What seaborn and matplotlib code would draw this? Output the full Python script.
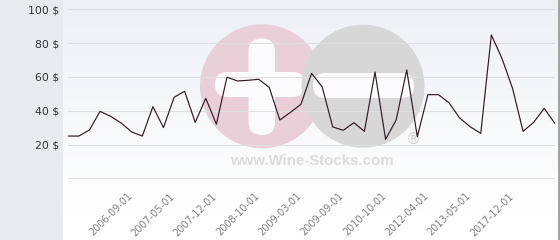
import numpy as np
import pandas as pd
import matplotlib
matplotlib.use("Agg")
import matplotlib.pyplot as plt
from matplotlib.patches import Rectangle, Circle, FancyBboxPatch
from matplotlib.colors import LinearSegmentedColormap
from matplotlib.transforms import ScaledTranslation
import seaborn as sns

# ---- data ----
prices = [25, 25, 28.6, 39.6, 36.7, 32.7, 27.4, 25, 42.4, 30, 47.9, 51.5, 33.1,
          47.3, 32, 59.8, 57.6, 58, 58.6, 53.8, 34.5, 39, 43.8, 62.1, 54.2, 30.4,
          28.4, 32.9, 27.8, 62.9, 23.1, 34.5, 64.1, 24.6, 49.5, 49.5, 44.7, 35.7,
          30.5, 26.6, 84.8, 71, 53.3, 27.8, 33.1, 41.4, 32.5]
tick_labels = ["2006-09-01", "2007-05-01", "2007-12-01", "2008-10-01", "2009-03-01",
               "2009-09-01", "2010-10-01", "2012-04-01", "2013-05-01", "2017-12-01"]
tick_index = [6, 10, 14, 18, 22, 26, 30, 34, 38, 42]
y_ticks = [0, 20, 40, 60, 80, 100]
y_tick_labels = ["", "20 $", "40 $", "60 $", "80 $", "100 $"]

df = pd.DataFrame({"idx": np.arange(len(prices)), "price": prices})

sns.set_theme(style="white")
plt.rcParams["font.family"] = ["DejaVu Sans"]

W, H = 560, 240
fig = plt.figure(figsize=(W / 100, H / 100), dpi=100, facecolor="white")

# ---- background layer (pixel coordinates) ----
bg = fig.add_axes([0, 0, 1, 1], zorder=0)
bg.set_xlim(0, W)
bg.set_ylim(H, 0)
bg.axis("off")
grad = LinearSegmentedColormap.from_list("g", ["#eef0f4", "#ffffff"])
bg.imshow(np.linspace(0, 1, 256).reshape(-1, 1), cmap=grad, aspect="auto",
          extent=[63, W, 215, 0], zorder=0)
bg.add_patch(Rectangle((63, 215), W - 63, 25, color="#ffffff", zorder=0.5, lw=0))
bg.add_patch(Rectangle((0, 0), 63, H, color="#e7ebee", zorder=1, lw=0))
bg.add_patch(Rectangle((558, 0), 2, H, color="#a3a3a3", zorder=1, lw=0))

# watermark logo
bg.add_patch(Circle((262, 86.3), 62, color="#e9d0d8", zorder=2, lw=0))
bg.add_patch(FancyBboxPatch((248.5, 38.5), 26.5, 96.5,
                            boxstyle="round,pad=0,rounding_size=13",
                            color="#fbfbfd", zorder=3, lw=0))
bg.add_patch(FancyBboxPatch((215, 72), 90, 25,
                            boxstyle="round,pad=0,rounding_size=12.5",
                            color="#fbfbfd", zorder=3, lw=0))
bg.add_patch(Circle((363, 86.2), 61.5, color="#d7d7d7", zorder=4, lw=0))
bg.add_patch(FancyBboxPatch((313, 73), 101, 25,
                            boxstyle="round,pad=0,rounding_size=12.5",
                            color="#fbfbfd", zorder=5, lw=0))
bg.text(312, 160.7, "www.Wine-Stocks.com", color="#dcdcdc", fontsize=10.8,
        fontweight="bold", family="Liberation Sans", ha="center", va="center", zorder=6)
bg.text(413, 139.5, "\u00ae", color="#d2d2d2", fontsize=11,
        family="DejaVu Sans", ha="center", va="center", zorder=6)

# ---- main chart ----
px_per_unit = 1.69
y_lo, y_hi = -4, 104
top_px = 9.3 - (y_hi - 100) * px_per_unit
bot_px = 178.3 + (0 - y_lo) * px_per_unit
ax = fig.add_axes([68.3 / W, (H - bot_px) / H, 486.5 / W, (bot_px - top_px) / H], zorder=1)
ax.patch.set_alpha(0)

sns.lineplot(data=df, x="idx", y="price", ax=ax, color="#2e1b27", linewidth=0.85)

ax.set_xlim(0, len(prices) - 1)
ax.set_ylim(y_lo, y_hi)
for s in ax.spines.values():
    s.set_visible(False)
ax.set_yticks(y_ticks)
ax.set_yticklabels(y_tick_labels)
ax.yaxis.grid(True, color="#dfdfdf", linewidth=0.75)
ax.xaxis.grid(False)
ax.set_axisbelow(True)
ax.tick_params(axis="y", length=0, pad=6.5, labelsize=7.8, labelcolor="#333333")
ax.set_xticks(tick_index)
ax.set_xticklabels(tick_labels)
ax.tick_params(axis="x", length=0, pad=4.3, labelsize=7.0, labelcolor="#808080")
shift = ScaledTranslation(-4.5 / 100, 0, fig.dpi_scale_trans)
for lbl in ax.get_xticklabels():
    lbl.set_rotation(45)
    lbl.set_ha("right")
    lbl.set_va("top")
    lbl.set_rotation_mode("anchor")
    lbl.set_transform(lbl.get_transform() + shift)
ax.set_xlabel("")
ax.set_ylabel("")

fig.savefig("out.png", dpi=100, facecolor="white")
